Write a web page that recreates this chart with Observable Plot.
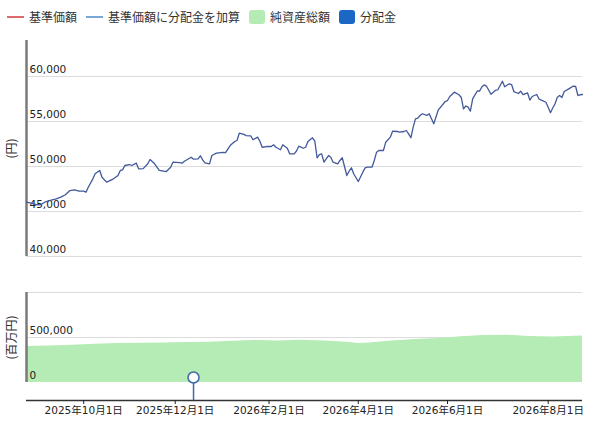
<!DOCTYPE html>
<html><head><meta charset="utf-8">
<script src="https://cdn.jsdelivr.net/npm/d3@7"></script>
<script src="https://cdn.jsdelivr.net/npm/@observablehq/plot@0.6"></script>
<style>
body{margin:0;background:#fff;font-family:"Noto Sans CJK JP",sans-serif;}
#wrap{position:relative;width:602px;height:427px;overflow:hidden;}
#legend{position:absolute;left:7px;top:8px;display:flex;gap:9px;font-size:12px;color:#333;line-height:18px;white-space:nowrap;}
.item{display:flex;align-items:center;gap:5px}
.ln{width:17px;height:2px}
.sq{width:16px;height:14px;border-radius:3px}
#topPanel{position:absolute;left:0;top:30px}
#botPanel{position:absolute;left:0;top:282px}
</style></head>
<body>
<div id="wrap">
  <div id="legend"></div>
  <div id="topPanel"></div>
  <div id="botPanel"></div>
</div>
<script>
// Legend
const legendLabels = ["基準価額", "基準価額に分配金を加算", "純資産総額", "分配金"];
const legendKinds = ["line", "line", "box", "box"];
const legendColors = ["#dd6b6b", "#7aa6d6", "#b5ebb5", "#1a68c4"];

// Trading-day index of each tick and its label
const tickDay = [25, 65, 106, 145, 184, 228];
const tickLabel = ["2025年10月1日", "2025年12月1日", "2026年2月1日", "2026年4月1日", "2026年6月1日", "2026年8月1日"];
const lastDay = 243;

// 基準価額 (円), by trading-day index
const navDay = [0,2,4,6,8,10,13,15,17,19,21,23,25,26,27,29,30,32,33,35,36,38,40,41,42,43,45,46,48,49,51,53,54,56,58,60,61,63,64,67,68,69,72,73,75,76,77,78,80,81,83,84,86,87,89,91,92,93,95,96,98,99,101,102,103,105,107,108,109,111,112,114,115,117,118,119,121,122,123,125,126,127,128,129,130,132,133,134,136,137,138,140,141,142,143,145,147,148,149,151,152,153,154,156,157,159,160,162,163,165,166,167,168,169,170,171,172,173,175,176,177,178,179,180,183,184,185,187,189,190,191,192,193,194,195,197,198,199,200,201,203,205,206,208,209,211,212,213,215,216,217,219,220,221,223,224,225,227,228,229,230,231,232,233,234,235,237,239,240,241,242,243];
const navValue = [46030,45920,45780,45740,46030,46220,46410,46590,46860,47330,47410,47260,47260,47140,47700,48630,49190,49560,48810,48260,48370,48630,49000,49560,49630,50110,50220,50110,50370,49740,49760,50300,50780,50300,49560,49480,49420,49920,50480,50440,50370,50590,51030,50810,50850,51190,50740,50410,50300,51220,51480,51520,51560,51550,52330,52780,52890,53700,53560,53440,53410,52970,53260,52810,52140,52220,52220,52410,52140,51860,52410,52030,51410,51410,51720,52260,52030,52140,52780,53190,52810,50970,51330,51410,50480,51220,51030,50480,50300,50670,50970,49000,49480,49860,49190,48330,49370,49860,49920,49920,50670,51590,51780,51780,52700,53260,53920,53890,53810,53890,54000,53630,53190,54370,55300,55370,55670,55860,55670,55860,55300,54740,55520,56300,57220,57330,57780,58260,57970,57670,56410,56720,56590,56140,57520,58390,58370,58830,59060,58940,58030,58480,58520,59480,58860,59190,59110,58330,58110,58370,57980,58170,57370,57780,58000,57500,57370,57140,56590,55980,56500,56970,57700,57890,57670,58330,58630,58940,58890,57890,57970,58000];

// 純資産総額 (百万円)
const assetDay = [0,10,20,30,40,50,60,70,80,90,100,110,120,130,140,145,150,160,170,180,190,200,210,220,230,243];
const assetValue = [400000,405000,415000,425000,432000,437000,440000,445000,447000,458000,468000,462000,470000,462000,448000,432000,440000,462000,478000,490000,508000,522000,525000,512000,505000,518000];

// 分配金 (trading-day index of the payout)
const distDay = [73];

const navTicks = [40000, 45000, 50000, 55000, 60000];
const assetGrid = [500000, 1000000];
const assetTicks = [0, 500000];

const navData = navDay.map((d, i) => ({day: d, nav: navValue[i]}));
const assetData = assetDay.map((d, i) => ({day: d, assets: assetValue[i]}));
const fmt = d3.format(",");

// legend
const lg = document.getElementById("legend");
legendLabels.forEach((t, i) => {
  const it = document.createElement("div"); it.className = "item";
  const sw = document.createElement("span");
  sw.className = legendKinds[i] === "line" ? "ln" : "sq";
  sw.style.background = legendColors[i];
  const tx = document.createElement("span"); tx.textContent = t;
  it.appendChild(sw); it.appendChild(tx); lg.appendChild(it);
});

const font = '"DejaVu Sans","Noto Sans CJK JP",sans-serif';
const yMin = 40000, yMax = 64000;

const topChart = Plot.plot({
  width: 602, height: 236,
  marginLeft: 26, marginRight: 20, marginTop: 10, marginBottom: 10,
  style: {fontFamily: font, fontSize: "10.5px", color: "#222", background: "transparent"},
  x: {domain: [0, lastDay], axis: null},
  y: {domain: [yMin, yMax], axis: null},
  marks: [
    Plot.gridY(navTicks, {stroke: "#dcdcdc", strokeOpacity: 1}),
    Plot.ruleX([0], {y1: yMin, y2: yMax, stroke: "#7a7a7a", strokeWidth: 2.5}),
    Plot.text(navTicks, {y: d => d, text: d => fmt(d), frameAnchor: "left", textAnchor: "start", dx: 3, dy: -7, fill: "#222"}),
    Plot.line(navData, {x: "day", y: "nav", stroke: "#42599a", strokeWidth: 1.3}),
    Plot.text(["(円)"], {text: d => d, frameAnchor: "left", textAnchor: "middle", lineAnchor: "middle", dx: -14, rotate: -90, fontSize: 12, fontFamily: '"Noto Sans CJK JP",sans-serif', fill: "#333"})
  ]
});
document.getElementById("topPanel").appendChild(topChart);

const bMin = -200000, bMax = 1000000;
const botChart = Plot.plot({
  width: 602, height: 145,
  marginLeft: 26, marginRight: 20, marginTop: 10, marginBottom: 27,
  style: {fontFamily: font, fontSize: "10.5px", color: "#222", background: "transparent"},
  x: {domain: [0, lastDay]},
  y: {domain: [bMin, bMax], axis: null},
  marks: [
    Plot.gridY(assetGrid, {stroke: "#dcdcdc", strokeOpacity: 1}),
    Plot.areaY(assetData, {x: "day", y: "assets", fill: "#b5ebb5"}),
    Plot.ruleX([0], {y1: 0, y2: bMax, stroke: "#7a7a7a", strokeWidth: 2.5}),
    Plot.ruleY([bMin], {stroke: "#333", strokeWidth: 1.5}),
    Plot.axisX(tickDay, {tickSize: 4, tickPadding: 2, tickFormat: d => tickLabel[tickDay.indexOf(d)], fontSize: 10.5, label: null}),
    Plot.text(assetTicks, {y: d => d, text: d => fmt(d), frameAnchor: "left", textAnchor: "start", dx: 3, dy: -7, fill: "#222"}),
    Plot.ruleX(distDay, {x: d => d, y1: bMin, y2: 0, stroke: "#3d6aa8", strokeWidth: 1.5}),
    Plot.dot(distDay, {x: d => d, y: 0, dy: -5, r: 5.5, fill: "white", stroke: "#3d6aa8", strokeWidth: 1.5}),
    Plot.text(["(百万円)"], {text: d => d, y: 500000, frameAnchor: "left", textAnchor: "middle", lineAnchor: "middle", dx: -14, rotate: -90, fontSize: 12, fontFamily: '"Noto Sans CJK JP",sans-serif', fill: "#333"})
  ]
});
document.getElementById("botPanel").appendChild(botChart);
</script>
</body></html>
